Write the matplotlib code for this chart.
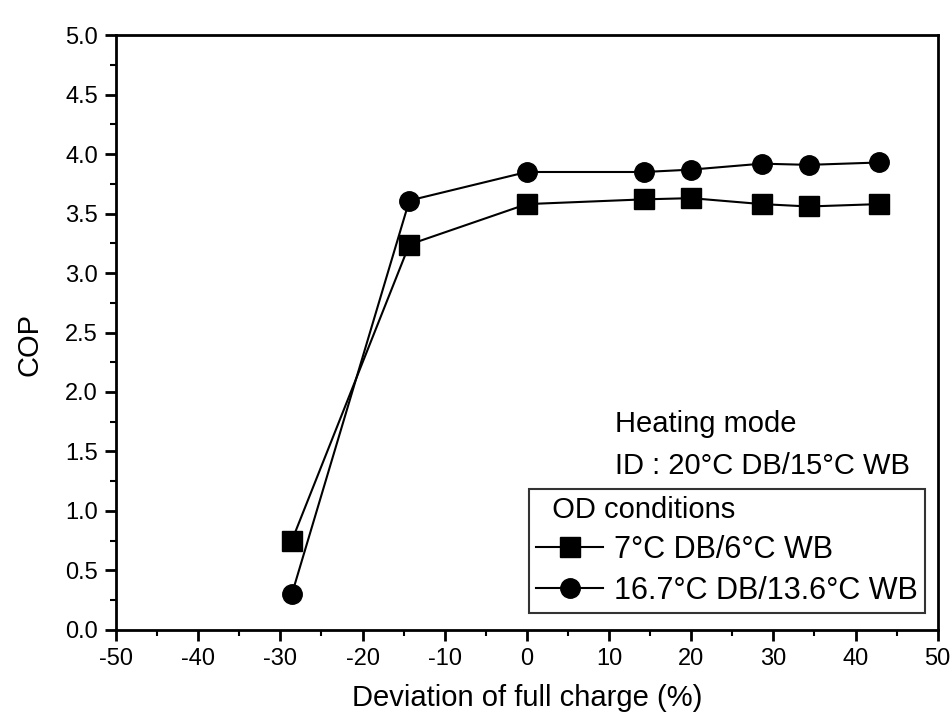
import matplotlib.pyplot as plt
from matplotlib.ticker import MultipleLocator

plt.rcParams['font.family'] = ['Liberation Sans', 'DejaVu Sans']
plt.rcParams['axes.unicode_minus'] = False

# data
deviation = [-28.6, -14.3, 0, 14.3, 20, 28.6, 34.3, 42.9]
cop_7c = [0.75, 3.24, 3.58, 3.62, 3.63, 3.58, 3.56, 3.58]
cop_167c = [0.30, 3.61, 3.85, 3.85, 3.87, 3.92, 3.91, 3.93]
labels = ['7°C DB/6°C WB', '16.7°C DB/13.6°C WB']

fig = plt.figure(figsize=(9.51, 7.19), dpi=100)
ax = fig.add_axes([0.122, 0.124, 0.864, 0.827])

ax.plot(deviation, cop_7c, color='black', lw=1.5, marker='s', ms=14, label=labels[0])
ax.plot(deviation, cop_167c, color='black', lw=1.5, marker='o', ms=14, label=labels[1])

ax.set_xlim(-50, 50)
ax.set_ylim(0, 5)
ax.xaxis.set_major_locator(MultipleLocator(10))
ax.xaxis.set_minor_locator(MultipleLocator(5))
ax.yaxis.set_major_locator(MultipleLocator(0.5))
ax.yaxis.set_minor_locator(MultipleLocator(0.25))
ax.yaxis.set_major_formatter(plt.FormatStrFormatter('%.1f'))
ax.tick_params(which='major', direction='out', length=8, width=2, labelsize=17, pad=5)
ax.tick_params(which='minor', direction='out', length=4.5, width=1.5)
for s in ax.spines.values():
    s.set_linewidth(2)

ax.set_xlabel('Deviation of full charge (%)', fontsize=21, labelpad=10)
ax.set_ylabel('COP', fontsize=21)
ax.yaxis.set_label_coords(-0.088, 0.48)

ax.text(10.7, 1.66, 'Heating mode', fontsize=21)
ax.text(10.7, 1.31, 'ID : 20°C DB/15°C WB', fontsize=21)

leg = ax.legend(loc='lower right', bbox_to_anchor=(0.984, 0.029), title='  OD conditions',
                fontsize=22, title_fontsize=21, frameon=True, fancybox=False,
                edgecolor='black', handlelength=2.2, handletextpad=0.35,
                borderpad=0.22, labelspacing=0.36, borderaxespad=0)
leg._legend_box.align = 'left'
leg.get_frame().set_linewidth(1.5)

fig.savefig('out.png', dpi=100)
